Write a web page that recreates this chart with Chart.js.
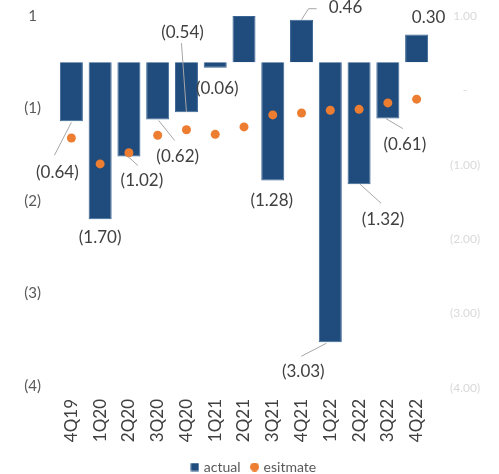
<!DOCTYPE html>
<html>
<head>
<meta charset="utf-8">
<script src="https://cdn.jsdelivr.net/npm/chart.js@4"></script>
<style>
  html, body { margin: 0; padding: 0; background: #fff; }
  #wrap { width: 499px; height: 474px; position: relative; }
</style>
</head>
<body>
<div id="wrap"><canvas id="myChart"></canvas></div>
<script>
const quarters = ['4Q19', '1Q20', '2Q20', '3Q20', '4Q20', '1Q21', '2Q21', '3Q21', '4Q21', '1Q22', '2Q22', '3Q22', '4Q22']
const actual = [-0.64, -1.70, -1.02, -0.62, -0.54, -0.06, 0.50, -1.28, 0.46, -3.03, -1.32, -0.61, 0.30]
const esitmate = [-0.82, -1.10, -0.98, -0.79, -0.73, -0.78, -0.70, -0.57, -0.55, -0.52, -0.51, -0.44, -0.40]
const showLabel = [true, true, true, true, true, true, false, true, true, true, true, true, true]
// left tick labels sit half a step off the bars in the picture
const leftTicks = [0.5, -0.5, -1.5, -2.5, -3.5]
const leftTickText = ['1', '(1)', '(2)', '(3)', '(4)']
const rightTicks = [1, 0, -1, -2, -3, -4]

const blue = '#1f4b7d'
const orange = '#ed7d31'

// where each value label goes, relative to the end of its bar (px)
const labelPos = [
  { dx: -14, dy: 51, line: [[0, 1], [-17, 34]] },
  { dx: 0, dy: 18 },
  { dx: 13, dy: 24, line: [[-1, 0], [9, 9]] },
  { dx: 20, dy: 37, line: [[1, 1], [17, 21]] },
  { dx: -4, dy: -80, line: [[0, 0], [-5, -69]] },
  { dx: 2, dy: 21 },
  null,
  { dx: -1, dy: 20 },
  { dx: 44, dy: -12, line: [[0, 0], [7, -11], [15, -11]] },
  { dx: -27, dy: 29, line: [[-4, 1], [-29, 14]] },
  { dx: 24, dy: 35, line: [[1, 0], [22, 19]] },
  { dx: 17, dy: 26, line: [[-2, 0], [15, 10]] },
  { dx: 12, dy: -17 }
]

function fmt(v) {
  const s = Math.abs(v).toFixed(2)
  return v < 0 ? '(' + s + ')' : s
}

// small legend markers
function icon(kind, color) {
  const c = document.createElement('canvas')
  c.width = 9
  c.height = 9
  const g = c.getContext('2d')
  g.fillStyle = color
  if (kind == 'rect') {
    g.fillRect(0.5, 0.5, 8, 8)
  } else {
    g.beginPath()
    g.arc(4.5, 4.5, 4.5, 0, Math.PI * 2)
    g.fill()
  }
  return c
}
const legendIcons = [icon('rect', blue), icon('circle', orange)]

const valueLabels = {
  id: 'valueLabels',
  afterDatasetsDraw(chart) {
    const ctx = chart.ctx
    const meta = chart.getDatasetMeta(0)
    ctx.save()
    meta.data.forEach((bar, i) => {
      const p = labelPos[i]
      if (!showLabel[i] || !p) return
      if (p.line) {
        ctx.strokeStyle = '#a6a6a6'
        ctx.lineWidth = 1
        ctx.beginPath()
        p.line.forEach((pt, k) => {
          if (k == 0) ctx.moveTo(bar.x + pt[0], bar.y + pt[1])
          else ctx.lineTo(bar.x + pt[0], bar.y + pt[1])
        })
        ctx.stroke()
      }
      ctx.fillStyle = '#404040'
      ctx.font = '17px Lato'
      ctx.textAlign = 'center'
      ctx.textBaseline = 'middle'
      ctx.fillText(fmt(actual[i]), bar.x + p.dx, bar.y + p.dy)
    })
    ctx.restore()
  }
}

function noPad(scale) {
  scale.paddingTop = 0
  scale.paddingBottom = 0
}

const ctx = document.getElementById('myChart')
new Chart(ctx, {
  type: 'bar',
  data: {
    labels: quarters,
    datasets: [{
      label: 'actual',
      data: actual,
      backgroundColor: blue,
      borderColor: '#3a6592',
      borderWidth: 1,
      barPercentage: 0.8,
      categoryPercentage: 1,
      yAxisID: 'y',
      order: 2
    }, {
      type: 'line',
      label: 'esitmate',
      data: esitmate,
      showLine: false,
      pointRadius: 4.5,
      pointBackgroundColor: orange,
      pointBorderWidth: 0,
      backgroundColor: orange,
      borderColor: orange,
      yAxisID: 'y',
      order: 1
    }]
  },
  options: {
    responsive: true,
    maintainAspectRatio: false,
    animation: false,
    layout: { padding: { top: 11, left: 10, right: 0, bottom: -10 } },
    plugins: {
      tooltip: { enabled: false },
      legend: {
        position: 'bottom',
        labels: {
          usePointStyle: true,
          boxHeight: 8,
          boxWidth: 4,
          padding: 12,
          color: '#595959',
          font: { family: 'Lato', size: 14 },
          sort: (a, b) => a.datasetIndex - b.datasetIndex,
          generateLabels: (chart) => {
            const items = Chart.defaults.plugins.legend.labels.generateLabels(chart)
            items.forEach(it => { it.pointStyle = legendIcons[it.datasetIndex] })
            return items
          }
        }
      }
    },
    scales: {
      x: {
        grid: { display: false, drawTicks: false },
        border: { display: false },
        ticks: {
          minRotation: 90,
          maxRotation: 90,
          padding: 4,
          color: '#404040',
          font: { family: 'Lato', size: 17 }
        },
        afterFit: (scale) => { scale.height = 53 }
      },
      y: {
        position: 'left',
        min: -3.6,
        max: 0.554,
        grid: { display: false, drawTicks: false },
        border: { display: false },
        ticks: {
          crossAlign: 'center',
          padding: 16,
          color: '#595959',
          font: { family: 'Lato', size: 15 },
          callback: (v) => leftTickText[leftTicks.indexOf(v)]
        },
        afterBuildTicks: (scale) => { scale.ticks = leftTicks.map(v => ({ value: v })) },
        afterFit: (scale) => { scale.width = 47; noPad(scale) }
      },
      y2: {
        position: 'right',
        min: -4.095,
        max: 1.068,
        grid: { display: false, drawTicks: false },
        border: { display: false },
        ticks: {
          crossAlign: 'center',
          padding: 19,
          color: '#d9d9d9',
          font: { family: 'Lato', size: 12 },
          callback: (v) => v == 0 ? '-' : fmt(v)
        },
        afterBuildTicks: (scale) => { scale.ticks = rightTicks.map(v => ({ value: v })) },
        afterFit: (scale) => { scale.width = 68; noPad(scale) }
      }
    }
  },
  plugins: [valueLabels]
})
</script>
</body>
</html>
